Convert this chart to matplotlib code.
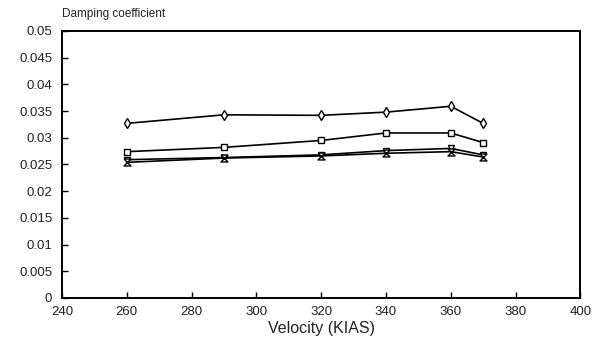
import numpy as np
import matplotlib
matplotlib.use("Agg")
import matplotlib.pyplot as plt

# velocity points (KIAS)
velocity = [260, 290, 320, 340, 360, 370]

# damping coefficient for each configuration
damp_diamond = [0.0327, 0.0343, 0.0342, 0.0348, 0.0359, 0.0327]
damp_square = [0.0274, 0.0282, 0.0295, 0.0309, 0.0309, 0.0291]
damp_tri = [0.0259, 0.0263, 0.0268, 0.0276, 0.0280, 0.0268]
damp_hour = [0.0254, 0.0262, 0.0266, 0.0271, 0.0274, 0.0264]

xticks = [240, 260, 280, 300, 320, 340, 360, 380, 400]
yticks = [0, 0.005, 0.01, 0.015, 0.02, 0.025, 0.03, 0.035, 0.04, 0.045, 0.05]
ytick_labels = ["0", "0.005", "0.01", "0.015", "0.02", "0.025", "0.03",
                "0.035", "0.04", "0.045", "0.05"]

plt.rcParams['font.family'] = ['Liberation Sans', 'DejaVu Sans']

fig = plt.figure(figsize=(5.97, 3.56), dpi=100)
ax = fig.add_axes([0.104, 0.163, 0.868, 0.750])

hourglass = [(-1, 1), (1, 1), (-1, -1), (1, -1), (-1, 1)]

style = dict(color='black', linewidth=1.2, markerfacecolor='white',
             markeredgecolor='black', markeredgewidth=1.0)
ax.plot(velocity, damp_diamond, marker='d', markersize=5.5, **style)
ax.plot(velocity, damp_square, marker='s', markersize=5, **style)
ax.plot(velocity, damp_tri, marker='v', markersize=5, **style)
ax.plot(velocity, damp_hour, marker=hourglass, markersize=5, **style)

ax.set_xlim(240, 400)
ax.set_ylim(0, 0.05)
ax.set_xticks(xticks)
ax.set_yticks(yticks)
ax.set_yticklabels(ytick_labels)
ax.tick_params(direction='in', length=4, width=1.0, labelsize=9.5,
               labelcolor='#222222')
ax.tick_params(axis='x', pad=6)
ax.tick_params(axis='y', pad=7)
for sp in ax.spines.values():
    sp.set_linewidth(1.4)

ax.set_xlabel('Velocity (KIAS)', fontsize=11.5, color='#222222', labelpad=2)
fig.text(0.104, 0.945, 'Damping coefficient', fontsize=8.5, color='#222222',
         ha='left', va='bottom')

fig.savefig('out.png', dpi=100)
